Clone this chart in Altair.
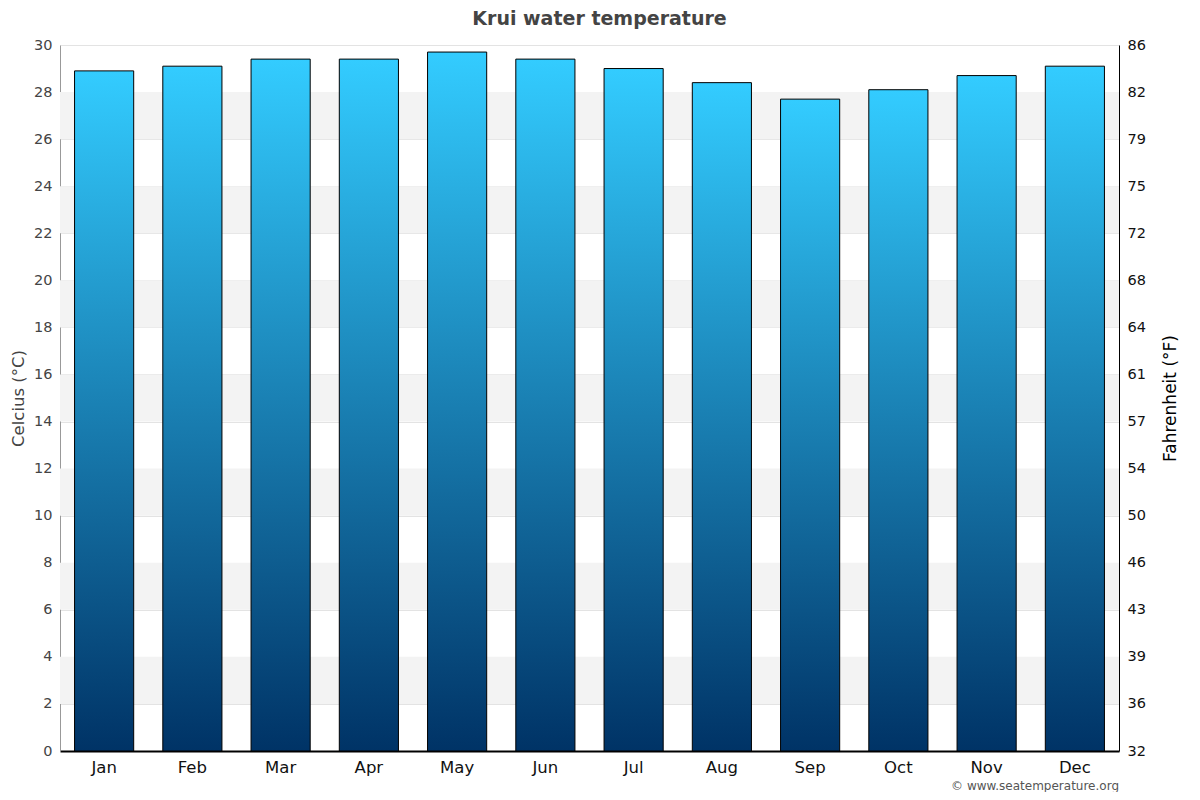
import altair as alt
import pandas as pd

months = ["Jan", "Feb", "Mar", "Apr", "May", "Jun", "Jul", "Aug", "Sep", "Oct", "Nov", "Dec"]
celsius = [28.9, 29.1, 29.4, 29.4, 29.7, 29.4, 29.0, 28.4, 27.7, 28.1, 28.7, 29.1]
c_ticks = list(range(0, 31, 2))
f_labels = ["32", "36", "39", "43", "46", "50", "54", "57", "61", "64", "68", "72", "75", "79", "82", "86"]
band_lo = [2, 6, 10, 14, 18, 22, 26]
band_hi = [4, 8, 12, 16, 20, 24, 28]

W, H = 1059, 706

df = pd.DataFrame({"month": months, "temp": celsius})
bands = pd.DataFrame({"lo": band_lo, "hi": band_hi})

yscale = alt.Scale(domain=[0, 30], nice=False, zero=True)

band_layer = alt.Chart(bands).mark_rect(color="#f3f3f3").encode(
    x=alt.value(0),
    x2=alt.value(W),
    y=alt.Y("lo:Q", scale=yscale, axis=None),
    y2="hi:Q",
)

gradient = alt.Gradient(
    gradient="linear",
    stops=[
        alt.GradientStop(color="#003366", offset=0),
        alt.GradientStop(color="#33ccff", offset=1),
    ],
    x1=0, x2=0, y1=1, y2=0,
)

bars = alt.Chart(df).mark_bar(fill=gradient, stroke="#000000", strokeWidth=1).encode(
    x=alt.X(
        "month:N",
        sort=months,
        scale=alt.Scale(paddingInner=0.33, paddingOuter=0.165),
        axis=alt.Axis(
            title=None, labelAngle=0, labelFontSize=16.5, labelColor="#111111",
            domainColor="#000000", domainWidth=2, ticks=False, labelPadding=8,
        ),
    ),
    y=alt.Y(
        "temp:Q",
        scale=yscale,
        axis=alt.Axis(
            title="Celcius (°C)", titleColor="#444444", titleFontSize=16.5,
            titleFontWeight="normal", titlePadding=7,
            values=c_ticks, labelColor="#444444", labelFontSize=14.5,
            grid=True, gridColor="#e3e3e3", domainColor="#999999",
            ticks=False, labelPadding=8,
        ),
    ),
)

label_expr = "[" + ",".join("'" + s + "'" for s in f_labels) + "][round(datum.value/2)]"

right_axis = alt.Chart(df).mark_bar(opacity=0).encode(
    x=alt.X("month:N", sort=months),
    y=alt.Y(
        "temp:Q",
        scale=yscale,
        axis=alt.Axis(
            orient="right", title="Fahrenheit (°F)", titleColor="#000000",
            titleFontSize=17, titleFontWeight="normal", titleAngle=270, titlePadding=34,
            values=c_ticks, labelExpr=label_expr, labelColor="#111111",
            labelFontSize=14.5, grid=False, domainColor="#000000", ticks=False,
            labelPadding=8,
        ),
    ),
)

credit = alt.Chart(pd.DataFrame({"t": ["© www.seatemperature.org"]})).mark_text(
    align="right", baseline="middle", fontSize=12, color="#555555"
).encode(
    text="t:N",
    x=alt.value(W),
    y=alt.value(H + 35),
)

chart = (
    alt.layer(band_layer, bars, right_axis, credit)
    .resolve_scale(y="shared")
    .resolve_axis(y="independent")
    .properties(
        width=W,
        height=H,
        autosize=alt.AutoSizeParams(type="none"),
        padding={"left": 52, "top": 37, "right": 73, "bottom": 41},
        title=alt.TitleParams(
            "Krui water temperature", fontSize=19, fontWeight="bold",
            color="#444444", anchor="middle", dx=10, offset=8,
        ),
    )
    .configure(font="DejaVu Sans")
    .configure_view(stroke=None)
)

chart.save("out.html", embed_options={"renderer": "svg", "actions": False})
